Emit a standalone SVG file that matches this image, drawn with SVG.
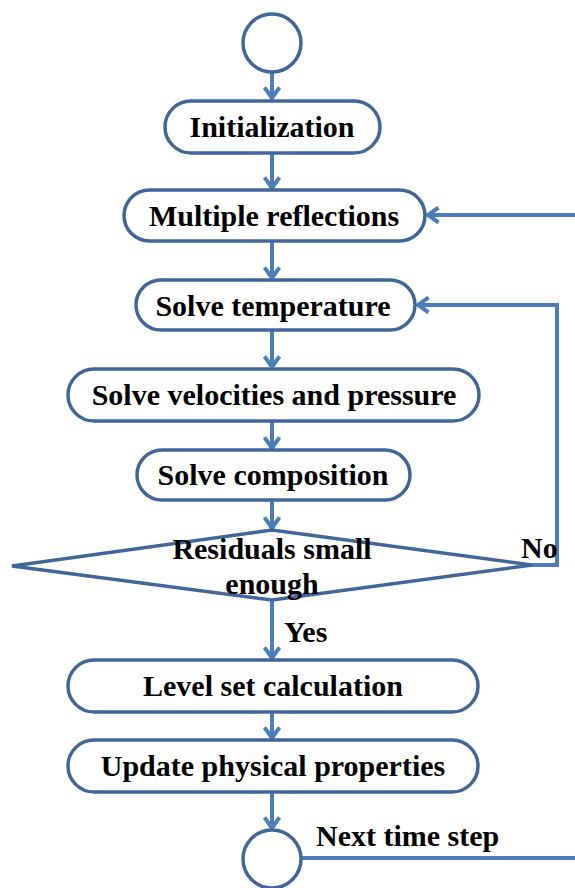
<svg xmlns="http://www.w3.org/2000/svg" width="575" height="888" viewBox="0 0 575 888">
<style>
.n{fill:#fff;stroke:#41679a;stroke-width:3.5}
.c{fill:none;stroke:#4a7ebb;stroke-width:4}
.t{font-family:"Liberation Serif","Times New Roman",serif;font-weight:bold;font-size:30px;fill:#000;text-anchor:middle}
.l{font-family:"Liberation Serif","Times New Roman",serif;font-weight:bold;font-size:30px;fill:#000}
</style>
<defs>
<marker id="a" markerWidth="14" markerHeight="18" refX="12" refY="9" orient="auto" markerUnits="userSpaceOnUse" viewBox="0 0 14 18">
<path d="M1.5,1.5 L12,9 L1.5,16.5" fill="none" stroke="#4a7ebb" stroke-width="4"/>
</marker>
</defs>
<rect width="575" height="888" fill="#fff"/>
<g id="connectors">
<path class="c" d="M272,72 V98" marker-end="url(#a)"/>
<path class="c" d="M272,153 V188" marker-end="url(#a)"/>
<path class="c" d="M575,215 H428" marker-end="url(#a)"/>
<path class="c" d="M272,241 V278" marker-end="url(#a)"/>
<path class="c" d="M272,330 V367" marker-end="url(#a)"/>
<path class="c" d="M272,421 V448" marker-end="url(#a)"/>
<path class="c" d="M272,500 V528" marker-end="url(#a)"/>
<path class="c" d="M532,565 H557 V305 H418" marker-end="url(#a)"/>
<path class="c" d="M272,600 V658" marker-end="url(#a)"/>
<path class="c" d="M272,712 V738" marker-end="url(#a)"/>
<path class="c" d="M272,792 V828" marker-end="url(#a)"/>
<path class="c" d="M301,858 H575"/>
</g>
<g id="start"><circle class="n" cx="272" cy="43" r="29"/></g>
<g id="init"><rect class="n" x="165" y="101" width="215" height="52" rx="26"/><text class="t" x="272" y="137">Initialization</text></g>
<g id="multi"><rect class="n" x="124" y="190" width="301" height="51" rx="25.5"/><text class="t" x="274" y="226">Multiple reflections</text></g>
<g id="temp"><rect class="n" x="136" y="280" width="279" height="50" rx="25"/><text class="t" x="273" y="316">Solve temperature</text></g>
<g id="vel"><rect class="n" x="68" y="369" width="411" height="52" rx="26"/><text class="t" x="274" y="405">Solve velocities and pressure</text></g>
<g id="comp"><rect class="n" x="137" y="450" width="273" height="50" rx="25"/><text class="t" x="273" y="485">Solve composition</text></g>
<g id="decision"><polygon class="n" points="12,566 272,530 532,565 272,600"/><text class="t" x="272" y="559">Residuals small</text><text class="t" x="272" y="594">enough</text></g>
<g id="level"><rect class="n" x="68" y="660" width="410" height="52" rx="26"/><text class="t" x="273" y="696">Level set calculation</text></g>
<g id="update"><rect class="n" x="68" y="740" width="410" height="52" rx="26"/><text class="t" x="273" y="776">Update physical properties</text></g>
<g id="end"><circle class="n" cx="272" cy="859" r="29"/></g>
<text class="l" x="521" y="558">No</text>
<text class="l" x="284" y="642">Yes</text>
<text class="l" x="316" y="846">Next time step</text>
</svg>
